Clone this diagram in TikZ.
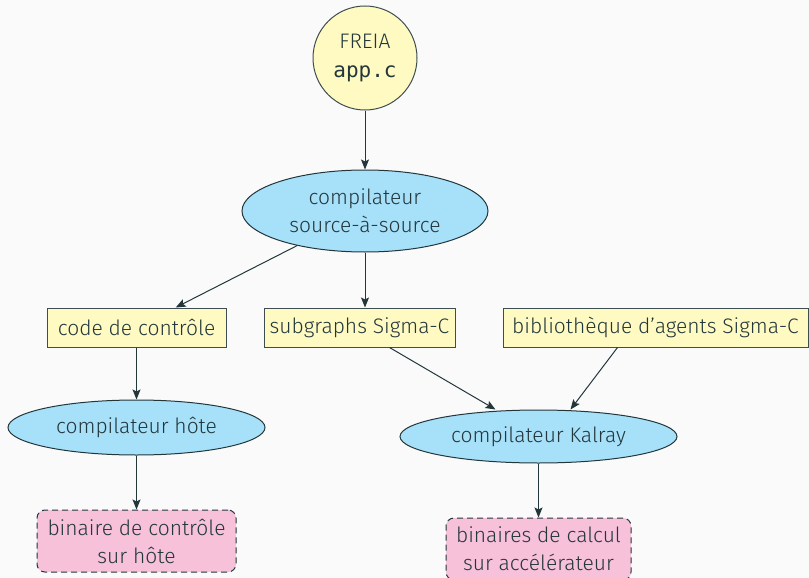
\documentclass[tikz,border=0pt]{standalone}
\usepackage{fontspec}
\setmainfont{Fira Sans}[UprightFont={* Light}]
\setmonofont{DejaVu Sans Mono}
\usetikzlibrary{shapes.geometric,arrows.meta,calc}
\definecolor{ink}{HTML}{23373B}
\definecolor{bg}{HTML}{FAFAFA}
\definecolor{yel}{HTML}{FFF9C2}
\definecolor{blu}{HTML}{A7E0F9}
\definecolor{pnk}{HTML}{F7C1DA}
\definecolor{edge}{HTML}{3E4E50}
\tikzset{
  base/.style={text=ink, font=\fontsize{21}{28}\selectfont, align=center, inner sep=0pt, line width=1pt},
  circ/.style={base, circle, draw=edge, fill=yel, minimum size=104pt},
  ell/.style={base, ellipse, draw=ink, fill=blu},
  ybox/.style={base, rectangle, draw=edge, fill=yel, minimum height=39pt},
  pbox/.style={base, rectangle, rounded corners=8pt, draw=ink, fill=pnk, dashed, dash pattern=on 6pt off 4pt},
  arr/.style={draw=ink, line width=1pt, -{Stealth[length=10pt,width=8pt,inset=2pt]}},
}
\begin{document}
\begin{tikzpicture}[x=1pt,y=-1pt]
\fill[bg] (0,0) rectangle (809,578);
\useasboundingbox (0,0) rectangle (809,578);
\node[circ] (app) at (365,58) {FREIA\\[1pt]\texttt{app.c}};
\node[ell, minimum width=246pt, minimum height=82pt] (s2s) at (365,211) {compilateur\\source-à-source};
\node[ybox, minimum width=179pt] (code) at (136.5,327.5) {code de contrôle};
\node[ybox, minimum width=191pt] (sub) at (359.5,327.5) {subgraphs Sigma-C};
\node[ybox, minimum width=305pt] (bib) at (655.5,327.5) {bibliothèque d’agents Sigma-C};
\node[ell, minimum width=257pt, minimum height=55pt] (hote) at (136.5,427.5) {compilateur hôte};
\node[ell, minimum width=277pt, minimum height=53pt] (kal) at (538.5,436.5) {compilateur Kalray};
\node[pbox, minimum width=199pt, minimum height=62pt] (bh) at (136.5,541) {binaire de contrôle\\sur hôte};
\node[pbox, minimum width=185pt, minimum height=62pt] (bk) at (538.5,549) {binaires de calcul\\sur accélérateur};
\draw[arr] (app) -- (s2s);
\draw[arr] (s2s) -- (code);
\draw[arr] (s2s.south) -- (s2s.south |- sub.north);
\draw[arr] ([xshift=30pt]sub.south) -- ([xshift=-43pt]kal.north);
\draw[arr] ([xshift=-38pt]bib.south) -- ([xshift=32pt]kal.north);
\draw[arr] (code) -- (hote);
\draw[arr] (hote) -- (bh);
\draw[arr] (kal) -- (bk);
\end{tikzpicture}
\end{document}
